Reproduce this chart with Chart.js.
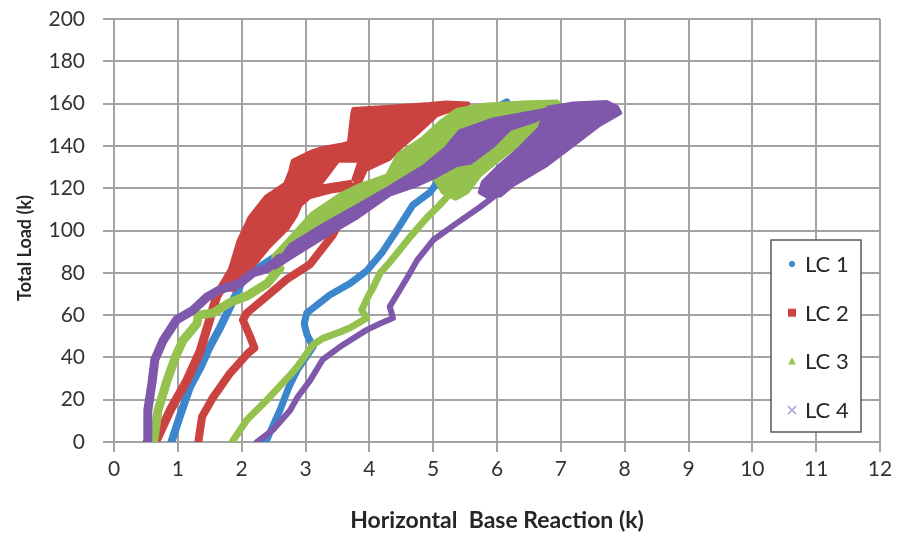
<!DOCTYPE html>
<html lang="en">
<head>
<meta charset="UTF-8">
<title>Total Load vs Horizontal Base Reaction</title>
<style>
  html, body { margin: 0; padding: 0; background: #fff; }
  #wrap { width: 912px; height: 538px; }
</style>
</head>
<body>
<div id="wrap"><canvas id="chart" width="912" height="538"></canvas></div>

<script src="https://cdn.jsdelivr.net/npm/chart.js@4/dist/chart.umd.min.js"></script>
<script>
// axis ranges / ticks
const xMin = 0, xMax = 12, xStep = 1;
const yMin = 0, yMax = 200, yStep = 20;
const seriesNames = ['LC 1', 'LC 2', 'LC 3', 'LC 4'];
const seriesColors = ['#3b86cc', '#cb4340', '#95c24f', '#7f58ab'];

// LC 1 : [horizontal base reaction (k), total load (k)]
const lc1Loading = [[0.9,0],[1.03,12],[1.19,26],[1.35,35],[1.5,45],[1.66,54],[1.82,64],[2.02,77],[2.3,83],[2.6,89],[2.95,97],[3.2,104],[3.6,112],[4.2,122],[4.8,134],[5.3,145],[5.7,153],[6.15,160.5]];
const lc1Unloading = [[6.15,160.5],[5.9,151],[5.62,140],[5.2,128],[4.95,118],[4.68,112],[4.45,101],[4.21,90],[3.96,81],[3.7,75],[3.38,69.5],[3.02,61],[2.98,56],[3.02,51],[3.12,45],[2.87,34],[2.74,26],[2.6,15],[2.45,5],[2.38,0]];

// LC 2
const lc2Loading = [[0.65,0],[0.88,15],[1.14,29],[1.35,43],[1.5,58],[1.61,69],[1.75,76],[1.85,81]];
const lc2BandLow = [[1.72,72],[1.95,95],[2.12,106],[2.38,116],[2.68,122],[2.76,128],[2.8,133],[3.07,137],[3.27,139],[3.54,140.4],[3.51,133],[3.2,120.6],[3.7,123],[3.75,120],[3.43,118.6],[3.07,115.8],[2.92,112],[2.85,107],[2.72,101],[2.42,92],[2.12,81],[1.88,72]];
const lc2BandTop = [[3.51,133],[3.5,140],[3.68,141.5],[3.73,154.6],[3.75,157.5],[4.32,158.5],[4.95,159.8],[5.2,160.5],[5.55,160],[5.5,158],[5.3,157],[5.06,154.6],[4.75,146],[4.48,139],[4.32,134],[3.9,128],[3.75,124],[3.85,133]];
const lc2Unloading = [[3.9,128],[3.75,118],[3.6,108],[3.43,98],[3.07,84],[2.71,77],[2.4,69],[2.08,61],[2.02,57.7],[2.13,50],[2.2,44.5],[2.1,42],[1.82,32.6],[1.55,21],[1.38,12],[1.32,0]];

// LC 3
const lc3Loading = [[0.62,0],[0.69,15],[0.83,29],[0.96,40],[1.08,48],[1.3,56],[1.32,60],[1.55,61],[1.82,66],[2.08,69],[2.4,75],[2.6,82]];
const lc3Band = [[2.45,79],[2.5,88],[2.8,98],[3.1,108],[3.54,117],[3.85,121.5],[4.28,126],[4.45,136],[4.84,143.7],[5.1,151],[5.37,157],[5.8,159.5],[6.4,160.5],[6.94,161],[7.05,158],[6.72,150],[6.47,143.7],[6.05,134],[5.73,126],[5.53,118],[5.35,115],[5.15,118],[5.0,126],[4.75,122.5],[4.32,118],[3.8,107],[3.27,97.5],[2.76,88]];
const lc3Unloading = [[5.25,117],[5.1,112],[4.9,106],[4.64,97],[4.32,85],[4.17,80],[4.06,73],[4.0,70],[3.88,62.4],[3.96,58.6],[3.7,54],[3.54,52],[3.27,49],[3.12,46],[3.02,42],[2.87,35.5],[2.74,31],[2.4,20],[2.08,10.4],[1.85,0]];

// LC 4
const lc4Loading = [[0.52,0],[0.53,15],[0.6,29],[0.64,39],[0.77,48],[0.98,57.7],[1.24,62.4],[1.46,68.6],[1.66,72],[1.97,75],[2.18,80],[2.4,82],[2.6,87]];
const lc4BandUp = [[2.5,82],[2.76,93],[3.27,102.5],[3.8,111.5],[4.32,120.5],[4.84,130],[5.2,139],[5.42,147],[5.94,152.5],[6.47,155.5],[6.75,157],[6.8,155.5],[6.6,152],[6.2,148],[5.94,140],[5.58,132],[5.37,131],[5.0,125],[4.75,121.5],[4.32,117],[3.8,106],[3.27,96.5],[2.76,87]];
const lc4BandPeak = [[6.78,158],[7.2,160],[7.72,160.7],[7.88,158.4],[7.93,155.6],[7.61,150],[7.19,140.4],[6.78,131],[6.25,121.5],[6.05,116.5],[5.85,116],[5.73,118],[5.78,123],[6.05,131],[6.36,139],[6.67,148.5],[6.72,154]];
const lc4Unloading = [[5.95,116],[5.73,111],[5.37,103.5],[5.0,95.5],[4.75,86],[4.6,78],[4.48,72],[4.32,64],[4.37,58.6],[4.17,56],[3.96,53],[3.54,45],[3.27,39],[3.07,29],[2.87,21],[2.76,15],[2.5,6],[2.24,0]];

// helpers to build datasets
function trace(data, color, width, order) {
    return {
        data: data, showLine: true, fill: false,
        borderColor: color, backgroundColor: color, borderWidth: width,
        borderJoinStyle: 'round', borderCapStyle: 'round',
        pointRadius: 0, pointHoverRadius: 0, order: order
    };
}
function band(data, color, order) {
    return {
        data: data.concat([data[0]]), showLine: true, fill: 'shape',
        borderColor: color, backgroundColor: color, borderWidth: 4,
        borderJoinStyle: 'round', pointRadius: 0, pointHoverRadius: 0, order: order
    };
}

const [cBlue, cRed, cGreen, cPurple] = seriesColors;
const datasets = [
    trace(lc1Loading, cBlue, 8, 40),
    trace(lc1Unloading, cBlue, 7, 40),
    trace(lc2Loading, cRed, 9, 30),
    trace(lc2Unloading, cRed, 8, 30),
    band(lc2BandLow, cRed, 30),
    band(lc2BandTop, cRed, 30),
    trace(lc3Loading, cGreen, 9, 20),
    trace(lc3Unloading, cGreen, 7, 20),
    band(lc3Band, cGreen, 20),
    trace(lc4Loading, cPurple, 9, 10),
    trace(lc4Unloading, cPurple, 6, 10),
    band(lc4BandUp, cPurple, 10),
    band(lc4BandPeak, cPurple, 10)
];

// legend box drawn on the plot, like the original
const boxLegend = {
    id: 'boxLegend',
    afterDraw(chart) {
        const ctx = chart.ctx;
        const x0 = 771, y0 = 240, w = 90, h = 192;
        ctx.save();
        ctx.fillStyle = '#fff';
        ctx.fillRect(x0, y0, w, h);
        ctx.strokeStyle = '#595959';
        ctx.lineWidth = 1.5;
        ctx.strokeRect(x0, y0, w, h);
        ctx.font = '22px Lato';
        ctx.textBaseline = 'middle';
        ctx.textAlign = 'left';
        seriesNames.forEach((name, i) => {
            const cy = 264 + i * 48.7, cx = 792;
            ctx.fillStyle = seriesColors[i];
            ctx.strokeStyle = seriesColors[i];
            if (i === 0) {
                ctx.beginPath(); ctx.arc(cx, cy, 3, 0, Math.PI * 2); ctx.fill();
            } else if (i === 1) {
                ctx.fillRect(cx - 4, cy - 4, 8, 8);
            } else if (i === 2) {
                ctx.beginPath(); ctx.moveTo(cx, cy - 4); ctx.lineTo(cx + 4, cy + 3); ctx.lineTo(cx - 4, cy + 3); ctx.closePath(); ctx.fill();
            } else {
                ctx.strokeStyle = '#b3a2d2'; ctx.lineWidth = 1.5;
                ctx.beginPath(); ctx.moveTo(cx - 4, cy - 4); ctx.lineTo(cx + 4, cy + 4);
                ctx.moveTo(cx + 4, cy - 4); ctx.lineTo(cx - 4, cy + 4); ctx.stroke();
            }
            ctx.fillStyle = '#262626';
            ctx.fillText(name, 805, cy + 1);
        });
        ctx.restore();
    }
};

Chart.defaults.font.family = 'Lato';
const gridColor = '#a3a3a3';

new Chart(document.getElementById('chart'), {
    type: 'scatter',
    data: { datasets: datasets },
    options: {
        responsive: false,
        animation: false,
        layout: { padding: { top: 19, right: 32, left: 0, bottom: 0 } },
        plugins: { legend: { display: false }, tooltip: { enabled: false } },
        scales: {
            x: {
                type: 'linear', min: xMin, max: xMax,
                afterFit: (s) => { s.height = 96; },
                ticks: { stepSize: xStep, color: '#333333', font: { size: 21 }, padding: 5 },
                grid: { color: gridColor, lineWidth: 2, tickLength: 10 },
                border: { color: gridColor, width: 2 },
                title: { display: true, text: 'Horizontal  Base Reaction (k)', color: '#262626',
                         font: { size: 23, weight: 'bold' }, padding: { top: 0, bottom: 4 } }
            },
            y: {
                type: 'linear', min: yMin, max: yMax,
                // fixed width; label overflow must not push the plot top down
                afterFit: (s) => { s.width = 114; s.paddingTop = 0; s.paddingBottom = 0; },
                ticks: { stepSize: yStep, color: '#333333', font: { size: 21 }, padding: 18 },
                grid: { color: gridColor, lineWidth: 2, tickLength: 11 },
                border: { color: gridColor, width: 2 },
                // trailing spaces nudge the rotated title a little lower, as in the original
                title: { display: true, text: 'Total Load (k)        ', color: '#262626',
                         font: { size: 18, weight: 'bold' }, padding: { top: 14, bottom: 0 } }
            }
        }
    },
    plugins: [boxLegend]
});
</script>
</body>
</html>
